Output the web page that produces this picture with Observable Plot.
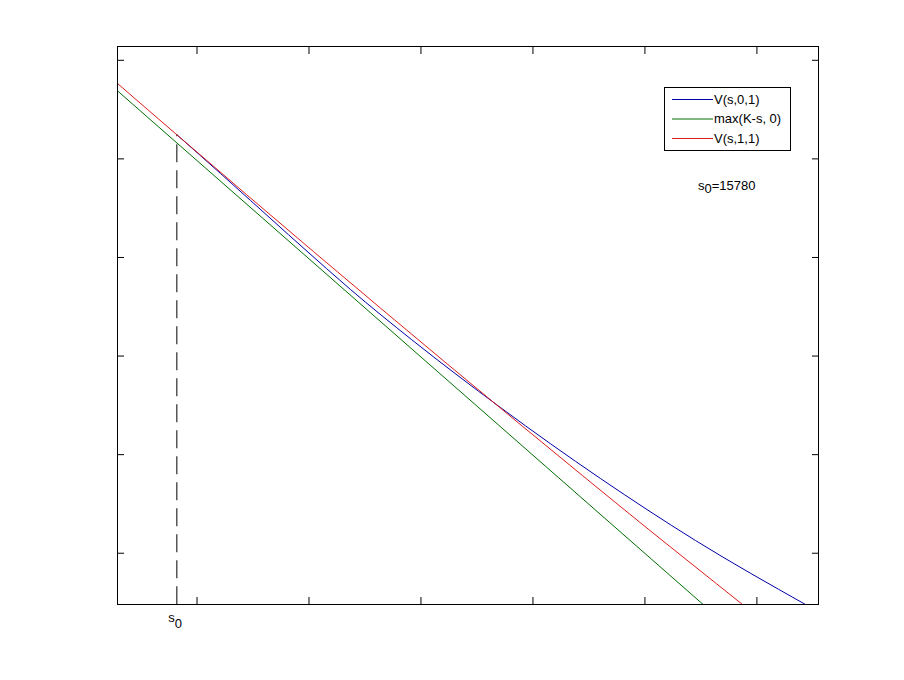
<!DOCTYPE html>
<html>
<head>
<meta charset="utf-8">
<script src="https://cdn.jsdelivr.net/npm/d3@7"></script>
<script src="https://cdn.jsdelivr.net/npm/@observablehq/plot@0.6"></script>
<style>
  body { margin: 0; background: #ffffff; }
  #chart { width: 904px; height: 680px; }
</style>
</head>
<body>
<div id="chart"></div>
<script>
// ---- data ----
const s0 = 15780;
const s0Label = "15780";
const xDomain = [15250, 21510];
const yDomain = [480, 6140];
const xTicks = [15960, 16960, 17960, 18960, 19960, 20960];
const yTicks = [1000, 2000, 3000, 4000, 5000, 6000];

const seriesNames = ["V(s,0,1)", "max(K-s, 0)", "V(s,1,1)"];
const seriesColors = ["#0000a8", "#006e00", "#dd1c1c"];

// V(s,0,1)
const blueS = [15780, 16170, 16438, 17116, 17331, 17875, 18670, 19563, 20412, 21394];
const blueV = [5245, 4852, 4578, 3888, 3675, 3168, 2478, 1758, 1129, 480];
// max(K-s, 0)
const greenS = [15250, 20480];
const greenV = [5690, 480];
// V(s,1,1)
const redS = [15250, 15800, 16400, 17000, 17600, 18200, 18800, 19400, 20000, 20600, 20831];
const redV = [5765, 5225, 4640, 4060, 3485, 2915, 2350, 1790, 1235, 690, 480];

// ---- build table ----
const seriesS = [blueS, greenS, redS];
const seriesV = [blueV, greenV, redV];
const rows = seriesNames.flatMap((name, k) =>
  seriesS[k].map((s, i) => ({ name, s, v: seriesV[k][i] }))
);

const font = "'Liberation Sans', Arial, Helvetica, sans-serif";

const plot = Plot.plot({
  width: 904,
  height: 680,
  marginLeft: 117,
  marginRight: 86,
  marginTop: 46,
  marginBottom: 76,
  style: { background: "#ffffff", fontFamily: font, fontSize: "13px", color: "black" },
  x: { domain: xDomain, label: null },
  y: { domain: yDomain, label: null },
  color: { domain: seriesNames, range: seriesColors },
  marks: [
    Plot.ruleX([s0], {
      y1: blueV[0], y2: yDomain[0],
      stroke: "black", strokeWidth: 1,
      strokeDasharray: "18,8", strokeDashoffset: 16
    }),
    Plot.line(rows, { x: "s", y: "v", z: "name", stroke: "name", strokeWidth: 1, curve: "monotone-x", clip: true }),
    Plot.frame({ stroke: "black", strokeWidth: 1 }),
    Plot.axisX(xTicks, { anchor: "bottom", tickSize: -7, tickFormat: () => "", label: null, stroke: "black" }),
    Plot.axisX(xTicks, { anchor: "top", tickSize: -7, tickFormat: () => "", label: null, stroke: "black" }),
    Plot.axisY(yTicks, { anchor: "left", tickSize: -7, tickFormat: () => "", label: null, stroke: "black" }),
    Plot.axisY(yTicks, { anchor: "right", tickSize: -7, tickFormat: () => "", label: null, stroke: "black" })
  ]
});

document.getElementById("chart").appendChild(plot);

// ---- annotations: legend, s0 text, s0 tick label ----
const svg = d3.select(plot);
const xs = plot.scale("x");
const g = svg.append("g")
  .attr("font-family", font)
  .attr("font-size", 13)
  .attr("text-anchor", "start")
  .attr("fill", "black");

// legend box
g.append("rect")
  .attr("x", 664.5).attr("y", 87.5)
  .attr("width", 126).attr("height", 63)
  .attr("fill", "white").attr("stroke", "black").attr("stroke-width", 1);

seriesNames.forEach((name, i) => {
  const y = 99.5 + i * 19.5;
  g.append("line")
    .attr("x1", 672).attr("x2", 713)
    .attr("y1", y).attr("y2", y)
    .attr("stroke", seriesColors[i]).attr("stroke-width", 1);
  g.append("text")
    .attr("x", 714).attr("y", y + 4.3)
    .attr("text-anchor", "start")
    .text(name);
});

// s0 = value annotation
const t1 = g.append("text").attr("x", 698).attr("y", 189.5).attr("text-anchor", "start");
t1.append("tspan").text("s");
t1.append("tspan").attr("dy", 3.5).text("0");
t1.append("tspan").attr("dy", -3.5).text("=" + s0Label);

// s0 tick label under the axis
const px = xs.apply(s0);
const t2 = g.append("text").attr("x", px - 8).attr("y", 622).attr("text-anchor", "start");
t2.append("tspan").text("s");
t2.append("tspan").attr("dy", 6).text("0");
</script>
</body>
</html>
